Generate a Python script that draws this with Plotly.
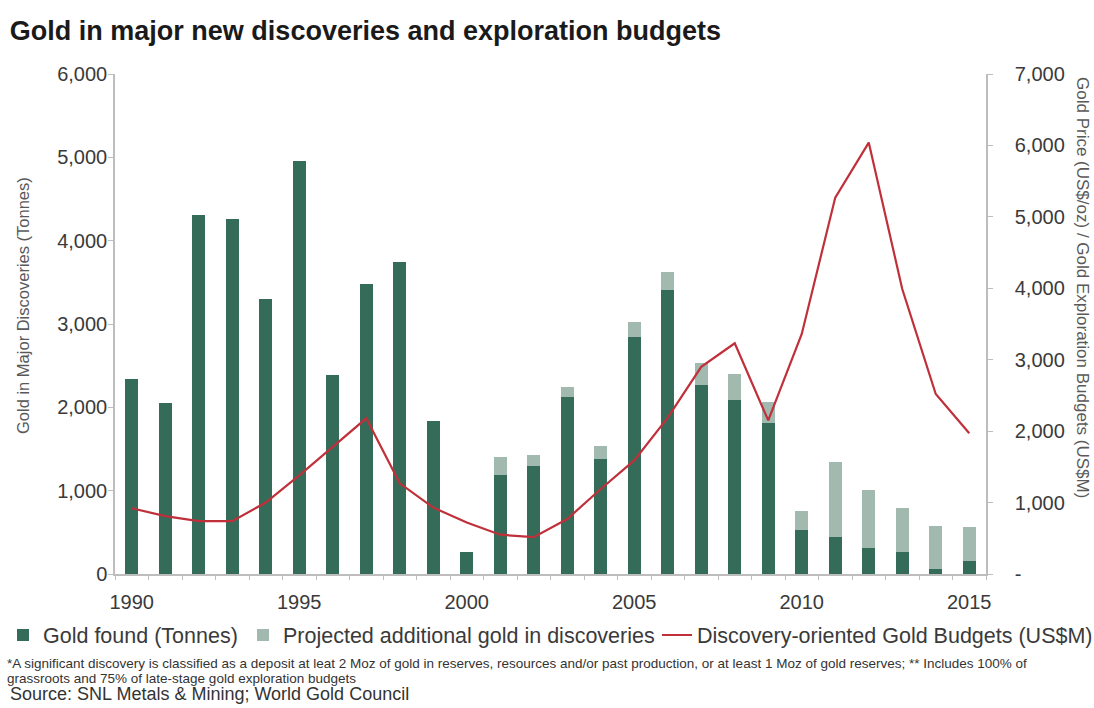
import plotly.graph_objects as go

# ---- data -------------------------------------------------------------
years = list(range(1990, 2016))

gold_found = [2340, 2050, 4310, 4260, 3300, 4960, 2390, 3480, 3750, 1840,
              260, 1190, 1300, 2130, 1380, 2850, 3410, 2270, 2090, 1810,
              530, 450, 310, 270, 60, 160]

projected_additional = [0, 0, 0, 0, 0, 0, 0, 0, 0, 0,
                        0, 220, 130, 110, 160, 170, 220, 260, 310, 260,
                        230, 890, 700, 520, 520, 400]

exploration_budgets = [920, 810, 740, 740, 1000, 1380, 1780, 2180, 1270, 930,
                       720, 550, 515, 770, 1190, 1590, 2190, 2900, 3230, 2150,
                       3360, 5270, 6040, 3990, 2520, 1970]

left_ticks = [0, 1000, 2000, 3000, 4000, 5000, 6000]
left_labels = ["0", "1,000", "2,000", "3,000", "4,000", "5,000", "6,000"]
right_ticks = [0, 1000, 2000, 3000, 4000, 5000, 6000, 7000]
right_labels = ["-", "1,000", "2,000", "3,000", "4,000", "5,000", "6,000", "7,000"]
year_ticks = [1990, 1995, 2000, 2005, 2010, 2015]

# ---- styling ------------------------------------------------------------
DARK_GREEN = "#356b59"
LIGHT_GREEN = "#a2b9b0"
RED = "#c0303a"
AXIS_GREY = "#bdbdbd"
TEXT = "#3a3a3a"
FONT = "Liberation Sans, Arial, sans-serif"

W, H = 1094, 708
PLOT_L, PLOT_R, PLOT_T, PLOT_B = 115, 986, 74, 574


def px_x(x):
    return (x - PLOT_L) / (PLOT_R - PLOT_L)


def px_y(y):
    return (PLOT_B - y) / (PLOT_B - PLOT_T)


fig = go.Figure()

fig.add_trace(go.Bar(
    x=years, y=gold_found, name="Gold found (Tonnes)",
    marker=dict(color=DARK_GREEN, line=dict(width=0)), width=0.38,
    legend="legend", showlegend=True,
))
fig.add_trace(go.Bar(
    x=years, y=projected_additional, name="Projected additional gold in discoveries",
    marker=dict(color=LIGHT_GREEN, line=dict(width=0)), width=0.38,
    legend="legend2", showlegend=True,
))
fig.add_trace(go.Scatter(
    x=years, y=exploration_budgets, name="Discovery-oriented Gold Budgets (US$M)",
    mode="lines", line=dict(color=RED, width=2.2), yaxis="y2",
    legend="legend3", showlegend=True,
))

legend_common = dict(
    orientation="h", xref="container", yref="container",
    xanchor="left", y=1 - 635 / H, yanchor="middle",
    font=dict(size=21.5, color=TEXT), itemwidth=30,
    bgcolor="rgba(0,0,0,0)", borderwidth=0,
)

fig.update_layout(
    width=W, height=H,
    margin=dict(l=PLOT_L, r=W - PLOT_R, t=PLOT_T, b=H - PLOT_B, autoexpand=False),
    paper_bgcolor="white", plot_bgcolor="white",
    barmode="stack", showlegend=True,
    font=dict(family=FONT, color=TEXT),
    title=dict(
        text="Gold in major new discoveries and exploration budgets",
        font=dict(family=FONT, size=27, color="#1a1a1a", weight="bold"),
        xref="container", yref="container",
        x=0.009, xanchor="left", y=1 - 31 / H, yanchor="middle",
    ),
    xaxis=dict(
        range=[1989.5, 2015.5], tickmode="array", tickvals=year_ticks,
        ticks="", showgrid=False, zeroline=False,
        showline=True, linecolor=AXIS_GREY, linewidth=1.5,
        tickfont=dict(size=20, color=TEXT), ticklabelstandoff=9,
        minor=dict(tickvals=[y - 0.5 for y in years] + [2015.5],
                   ticks="outside", ticklen=4, tickcolor=AXIS_GREY, tickwidth=1),
    ),
    yaxis=dict(
        range=[0, 6000], tickmode="array", tickvals=left_ticks, ticktext=left_labels,
        ticks="outside", ticklen=5, tickcolor=AXIS_GREY,
        showgrid=False, zeroline=False,
        showline=True, linecolor=AXIS_GREY, linewidth=1.5,
        tickfont=dict(size=20, color=TEXT), ticklabelstandoff=-3,
    ),
    yaxis2=dict(
        range=[0, 7000], overlaying="y", side="right",
        tickmode="array", tickvals=right_ticks, ticktext=right_labels,
        ticks="outside", ticklen=5, tickcolor=AXIS_GREY,
        showgrid=False, zeroline=False,
        showline=True, linecolor=AXIS_GREY, linewidth=1.5,
        tickfont=dict(size=20, color=TEXT), ticklabelstandoff=18,
    ),
    legend=dict(legend_common, x=3 / W),
    legend2=dict(legend_common, x=243 / W),
    legend3=dict(legend_common, x=657 / W),
)

# axis titles
fig.add_annotation(
    text="Gold in Major Discoveries (Tonnes)", textangle=-90,
    xref="paper", yref="paper", x=px_x(23), y=px_y(306),
    xanchor="center", yanchor="middle",
    showarrow=False, font=dict(size=16.5, color="#595959"),
)
fig.add_annotation(
    text="Gold Price (US$/oz) / Gold Exploration Budgets (US$M)", textangle=90,
    xref="paper", yref="paper", x=px_x(1083), y=px_y(287),
    xanchor="center", yanchor="middle",
    showarrow=False, font=dict(size=17, color="#595959"),
)

# footnotes
footnote_lines = [
    ("*A significant discovery is classified as a deposit at leat 2 Moz of gold in reserves, "
     "resources and/or past production, or at least 1 Moz of gold reserves; ** Includes 100% of", 663),
    ("grassroots and 75% of late-stage gold exploration budgets", 678),
]
for line_text, line_y in footnote_lines:
    fig.add_annotation(
        text=line_text, xref="paper", yref="paper",
        x=px_x(5), xanchor="left", y=px_y(line_y), yanchor="middle", align="left",
        showarrow=False, font=dict(size=13.5, color="#333333"),
    )
fig.add_annotation(
    text="Source: SNL Metals & Mining; World Gold Council",
    xref="paper", yref="paper", x=px_x(8), xanchor="left",
    y=px_y(694), yanchor="middle", align="left",
    showarrow=False, font=dict(size=18, color="#333333"),
)

fig.write_html("out.html")
